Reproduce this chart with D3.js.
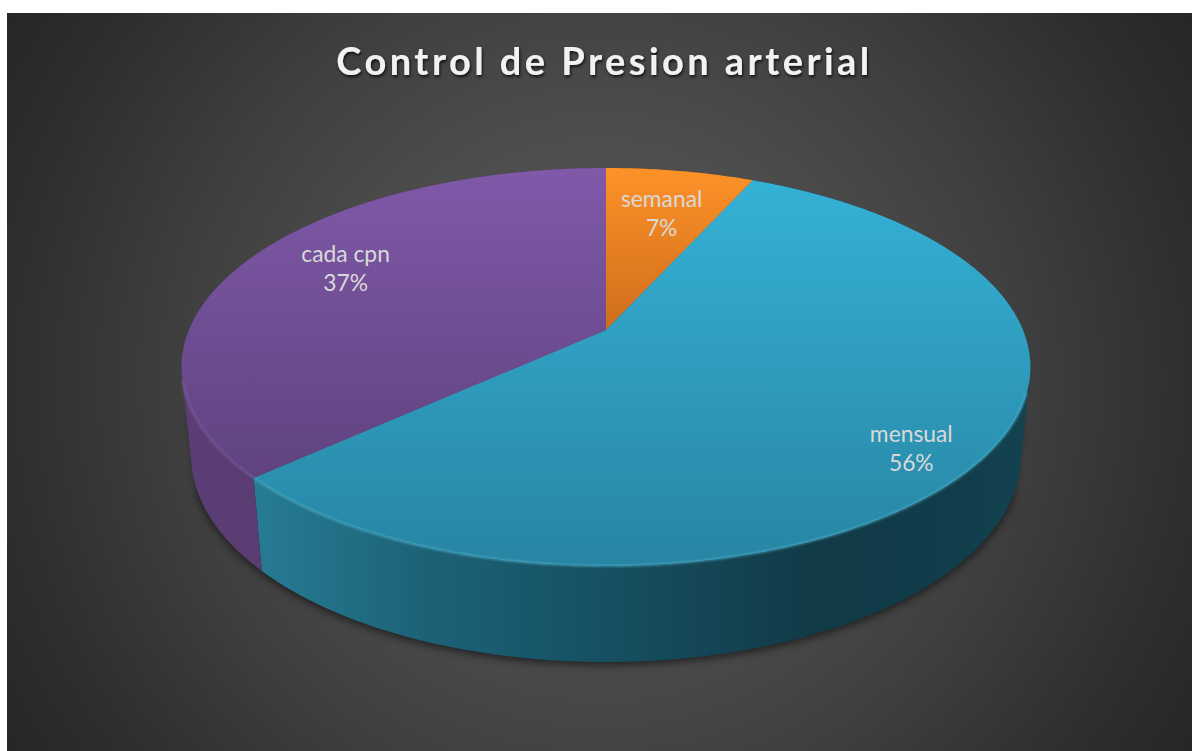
<!DOCTYPE html>
<html>
<head>
<meta charset="utf-8">
<script src="https://cdn.jsdelivr.net/npm/d3@7/dist/d3.min.js"></script>
<style>
html,body{margin:0;padding:0;background:#fff;overflow:hidden}
svg{display:block}
</style>
</head>
<body>
<svg id="c" width="1192" height="751"></svg>
<script>
// DATA
const categories = ["semanal", "mensual", "cada cpn"];
const values = [6.75, 56.49, 36.76];
const chartTitle = "Control de Presion arterial";

// STYLE (per category)
const topStops = [["#fd9228", "#cf6d1d"], ["#35b1d6", "#2885a3"], ["#8059a9", "#5f437f"]];
const sideStops = [
  [["#a05a15", 0], ["#a05a15", 1]],
  [["#267c94", 0], ["#1c6277", .22], ["#165062", .45], ["#113a47", .72], ["#113c49", .88], ["#134250", 1]],
  [["#5b3e75", 0], ["#503568", 1]]
];
const rimColors = ["#ffb060", "#5cc6e2", "#8f6db8"];
const labelRadius = [0.68, 0.866, 0.735];
const labelFrac = [0.524, 0.524, 0.515];

// PROJECTION of the tilted, perspective pie
const W = 1192, H = 751;
const apex = {x: 606, y: 330};
const R = 417, S = 192.1, P = 0.186;
const base = {sx: 0.977, sy: 1.034, y: 418};
function topPt(theta, r = 1) {
  const u = Math.sin(theta) * r, v = -Math.cos(theta) * r, w = 1 - P * v;
  return [apex.x + R * u / w, apex.y + S * v / w];
}
function bottomPt(theta) {
  const [x, y] = topPt(theta);
  return [apex.x + (x - apex.x) * base.sx, base.y + (y - apex.y) * base.sy];
}
function arcAngles(a0, a1) {
  const n = Math.max(2, Math.ceil((a1 - a0) / 0.01));
  return d3.range(n + 1).map(i => a0 + (a1 - a0) * i / n);
}
function wallPath(a0, a1) {
  const as = arcAngles(a0, a1), p = d3.path();
  for (let i = 0; i < as.length - 1; i++) {
    let q = [topPt(as[i]), topPt(as[i + 1]), bottomPt(as[i + 1]), bottomPt(as[i])];
    if (d3.polygonArea(q) < 0) q = q.reverse();
    p.moveTo(q[0][0], q[0][1]);
    q.slice(1).forEach(c => p.lineTo(c[0], c[1]));
    p.closePath();
  }
  return p.toString();
}
const line = d3.line();

const pie = d3.pie().sort(null).value(d => d).startAngle(0).endAngle(2 * Math.PI);
const arcs = pie(values);

const svg = d3.select("#c");
const defs = svg.append("defs");

// background gradient
const bg = defs.append("radialGradient").attr("id", "bg").attr("gradientUnits", "userSpaceOnUse")
  .attr("cx", 600).attr("cy", 382).attr("r", 700);
[[0, "#595959"], [.35, "#4d4d4d"], [.6, "#3f3f3f"], [.85, "#2e2e2e"], [1, "#262626"]]
  .forEach(s => bg.append("stop").attr("offset", s[0]).attr("stop-color", s[1]));

const blur = (id, sd) => defs.append("filter").attr("id", id)
  .attr("x", "-10%").attr("y", "-10%").attr("width", "120%").attr("height", "120%")
  .append("feGaussianBlur").attr("stdDeviation", sd);
blur("shadowBlur", 4);
blur("rimBlur", 1);

const tf = defs.append("filter").attr("id", "titleShadow")
  .attr("x", "-5%").attr("y", "-20%").attr("width", "110%").attr("height", "150%");
tf.append("feDropShadow").attr("dx", 1).attr("dy", 2).attr("stdDeviation", 1.4)
  .attr("flood-color", "#000").attr("flood-opacity", .75);

arcs.forEach((a, i) => {
  const pts = arcAngles(a.startAngle, a.endAngle).map(t => topPt(t)).concat([[apex.x, apex.y]]);
  const ys = pts.map(p => p[1]);
  const g = defs.append("linearGradient").attr("id", "top" + i).attr("gradientUnits", "userSpaceOnUse")
    .attr("x1", 0).attr("x2", 0).attr("y1", d3.min(ys)).attr("y2", d3.max(ys));
  g.append("stop").attr("offset", 0).attr("stop-color", topStops[i][0]);
  g.append("stop").attr("offset", 1).attr("stop-color", topStops[i][1]);
  const xs = arcAngles(a.startAngle, a.endAngle).map(t => bottomPt(t)[0]).concat(pts.map(p => p[0]));
  const s = defs.append("linearGradient").attr("id", "side" + i).attr("gradientUnits", "userSpaceOnUse")
    .attr("y1", 0).attr("y2", 0).attr("x1", d3.min(xs)).attr("x2", d3.max(xs));
  sideStops[i].forEach(st => s.append("stop").attr("offset", st[1]).attr("stop-color", st[0]));
});

// background
svg.append("rect").attr("x", 7).attr("y", 13).attr("width", W - 7).attr("height", H - 13).attr("fill", "url(#bg)");

// shadow: front part of the wall only, so the back rim stays clean
svg.append("path").attr("d", wallPath(1.95, 4.35))
  .attr("fill", "#000").attr("opacity", .55).attr("filter", "url(#shadowBlur)")
  .attr("transform", "translate(0,3)");

// walls
svg.append("g").selectAll("path").data(arcs).join("path")
  .attr("d", d => wallPath(d.startAngle, d.endAngle))
  .attr("fill", (d, i) => `url(#side${i})`);

// top faces
const slicePts = d => arcAngles(d.startAngle, d.endAngle).map(t => topPt(t)).concat([[apex.x, apex.y]]);
svg.append("g").selectAll("path").data(arcs).join("path")
  .attr("d", d => line(slicePts(d)) + "Z")
  .attr("fill", (d, i) => `url(#top${i})`);

// front rim highlight
const frontRange = d => [Math.max(d.startAngle, Math.PI * 0.6), Math.min(d.endAngle, 1.42 * Math.PI)];
svg.append("g").selectAll("path").data(arcs.filter(d => frontRange(d)[1] > frontRange(d)[0])).join("path")
  .attr("d", d => { const r = frontRange(d); return line(arcAngles(r[0], r[1]).map(t => topPt(t))); })
  .attr("fill", "none").attr("stroke", d => rimColors[d.index]).attr("stroke-width", 1.7)
  .attr("opacity", .6).attr("filter", "url(#rimBlur)");

// labels
const labelFont = "Lato, 'Noto Sans', sans-serif";
const total = d3.sum(values);
const lbl = svg.append("g").selectAll("text").data(arcs).join("text")
  .attr("font-family", labelFont).attr("font-size", 22.8).attr("fill", "#d9d9d9")
  .attr("text-anchor", "middle")
  .attr("transform", d => {
    const t = d.startAngle + (d.endAngle - d.startAngle) * labelFrac[d.index];
    const [x, y] = topPt(t, labelRadius[d.index]);
    return `translate(${x},${y})`;
  });
lbl.append("tspan").attr("x", 0).attr("y", -9.5).text(d => categories[d.index]);
lbl.append("tspan").attr("x", 0).attr("y", 19.5).text(d => Math.round(d.value / total * 100) + "%");

// title
svg.append("text").attr("x", 604.5).attr("y", 75).attr("text-anchor", "middle")
  .attr("font-family", labelFont).attr("font-weight", 700).attr("font-size", 38)
  .attr("letter-spacing", 3.45).attr("fill", "#f2f2f2").attr("filter", "url(#titleShadow)")
  .text(chartTitle);
</script>
</body>
</html>
